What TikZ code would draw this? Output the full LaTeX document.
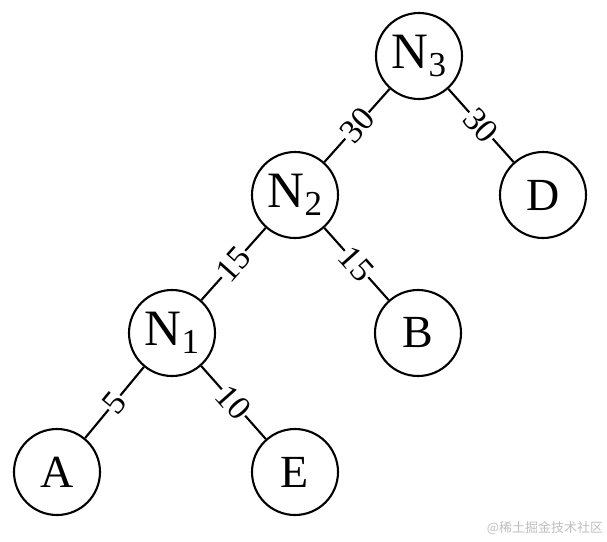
\documentclass[tikz,border=0pt]{standalone}
\usepackage{fontspec}
\setmainfont{Liberation Serif}
\newfontfamily\cjk{Noto Sans CJK SC}
\begin{document}
\begin{tikzpicture}[x=1pt,y=-1pt,
  treenode/.style={circle,draw=black,line width=2.1pt,minimum size=86pt,inner sep=0pt,font=\fontsize{46}{46}\selectfont},
  edge/.style={line width=2.1pt},
  wlabel/.style={midway,sloped,fill=white,inner sep=0.5pt,font=\fontsize{34}{34}\selectfont}]
\useasboundingbox (0,0) rectangle (607,541);
\newcommand{\Nsub}[1]{{\fontsize{51}{51}\selectfont N}\raisebox{-8pt}{\fontsize{35}{35}\selectfont #1}}
\node[treenode] (n3) at (419,56) {\Nsub{3}};
\node[treenode] (n2) at (295,195) {\Nsub{2}};
\node[treenode] (d) at (543,195) {D};
\node[treenode] (n1) at (172,333) {\Nsub{1}};
\node[treenode] (b) at (418,333) {B};
\node[treenode] (a) at (57,472) {A};
\node[treenode] (e) at (295,472) {E};
\draw[edge] (n3) -- node[wlabel] {30} (n2);
\draw[edge] (n3) -- node[wlabel] {30} (d);
\draw[edge] (n2) -- node[wlabel] {15} (n1);
\draw[edge] (n2) -- node[wlabel] {15} (b);
\draw[edge] (n1) -- node[wlabel] {5} (a);
\draw[edge] (n1) -- node[wlabel] {10} (e);
\node[text=black!25,font=\cjk\fontsize{13}{13}\selectfont] (wm) at (545,528) {@稀土掘金技术社区};
\end{tikzpicture}
\end{document}
